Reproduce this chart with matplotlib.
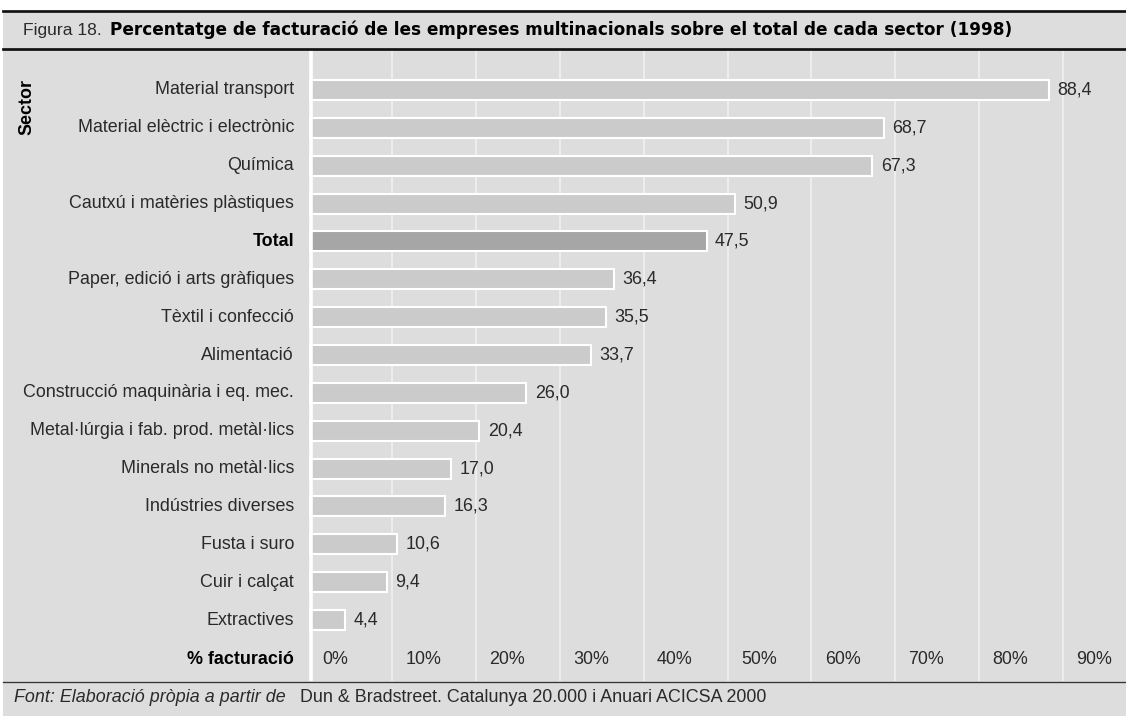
#!/usr/bin/env python3

import matplotlib.pyplot as plt
from matplotlib import transforms
from matplotlib.lines import Line2D
from matplotlib.patches import Rectangle

FIG_W, FIG_H = 1126, 716

sectors = [
    "Material transport",
    "Material elèctric i electrònic",
    "Química",
    "Cautxú i matèries plàstiques",
    "Total",
    "Paper, edició i arts gràfiques",
    "Tèxtil i confecció",
    "Alimentació",
    "Construcció maquinària i eq. mec.",
    "Metal·lúrgia i fab. prod. metàl·lics",
    "Minerals no metàl·lics",
    "Indústries diverses",
    "Fusta i suro",
    "Cuir i calçat",
    "Extractives",
]
shares = [88.4, 68.7, 67.3, 50.9, 47.5, 36.4, 35.5, 33.7, 26.0, 20.4, 17.0, 16.3, 10.6, 9.4, 4.4]
highlight = "Total"
x_ticks = [0, 10, 20, 30, 40, 50, 60, 70, 80, 90]

title_prefix = "Figura 18."
title_text = "Percentatge de facturació de les empreses multinacionals sobre el total de cada sector (1998)"
source_italic = "Font: Elaboració pròpia a partir de"
source_plain = "Dun & Bradstreet. Catalunya 20.000 i Anuari ACICSA 2000"

BG = "#dddddd"
BAR = "#cbcbcb"
BAR_DARK = "#a6a6a6"
INK = "#2a2a2a"
FONT = "Liberation Sans"
SIZE = 12.9


def fx(px: float) -> float:
    return px / FIG_W


def fy(px: float) -> float:
    return 1 - px / FIG_H


def hline(fig: plt.Figure, y_px: float, width_px: float, color: str) -> None:
    fig.add_artist(
        Line2D([fx(3), 1], [fy(y_px), fy(y_px)], transform=fig.transFigure,
               color=color, linewidth=width_px * 0.72)
    )


def main() -> None:
    plt.rcParams["font.family"] = [FONT, "DejaVu Sans"]
    fig = plt.figure(figsize=(FIG_W / 100, FIG_H / 100), dpi=100, facecolor="white")

    # grey panel with a thin white margin at the top and left
    fig.add_artist(Rectangle((fx(3), 0), 1 - fx(3), fy(10.5), transform=fig.transFigure,
                             facecolor=BG, edgecolor="none", zorder=0))
    hline(fig, 10.7, 2.7, "#111111")
    hline(fig, 49.0, 2.7, "#111111")
    hline(fig, 681.6, 1.3, "#333333")

    fig.text(fx(23), fy(30), title_prefix, fontsize=12.6, color=INK, va="center")
    fig.text(fx(110), fy(30), title_text, fontsize=12.2, fontweight="bold",
             family=["DejaVu Sans"], color="black", va="center")

    fig.text(fx(14), fy(697), source_italic, fontsize=SIZE, style="italic", color=INK, va="center")
    fig.text(fx(300), fy(697), source_plain, fontsize=SIZE, color=INK, va="center")

    left, top, bottom = 308.5, 51, 681
    ax = fig.add_axes([fx(left), 1 - bottom / FIG_H, 1 - fx(left), (bottom - top) / FIG_H])
    ax.set_facecolor(BG)
    row = 37.86
    ax.set_ylim((bottom - 90) / row, (top - 90) / row)
    ax.set_xlim(0, (FIG_W - left) / 8.38)
    for side in ax.spines.values():
        side.set_visible(False)
    ax.set_xticks([])
    ax.set_yticks([])

    for tick in x_ticks[1:]:
        ax.axvline(tick, color="#f3f3f3", linewidth=1.1, zorder=1)
    ax.axvline(0.35, color="white", linewidth=2.6, zorder=3)

    positions = list(range(len(sectors)))
    colors = [BAR_DARK if name == highlight else BAR for name in sectors]
    ax.barh(positions, shares, height=0.53, color=colors, edgecolor="white",
            linewidth=1.5, zorder=2)

    for pos, value in zip(positions, shares):
        ax.annotate(f"{value:.1f}".replace(".", ","), (value, pos), xytext=(6, 0),
                    textcoords="offset points", ha="left", va="center",
                    fontsize=SIZE, color=INK)

    tick_row = len(sectors) + 0.05
    for tick in x_ticks:
        ax.text(tick + 1.6, tick_row, f"{tick}%", ha="left", va="center",
                fontsize=SIZE, color=INK)

    # category labels sit in the left column, right-aligned against the axis
    label_tr = transforms.blended_transform_factory(fig.transFigure, ax.transData)
    for pos, name in zip(positions, sectors):
        ax.text(fx(294), pos, name, transform=label_tr, ha="right", va="center",
                fontsize=SIZE, color="black" if name == highlight else INK,
                fontweight="bold" if name == highlight else "normal")
    ax.text(fx(294), tick_row, "% facturació", transform=label_tr, ha="right",
            va="center", fontsize=SIZE, fontweight="bold", color="black")

    fig.text(fx(27), fy(107), "Sector", rotation=90, ha="center", va="center",
             fontsize=SIZE, fontweight="bold", color="black")

    fig.savefig("out.png", dpi=100, facecolor=fig.get_facecolor())
    plt.close(fig)


if __name__ == "__main__":
    main()
